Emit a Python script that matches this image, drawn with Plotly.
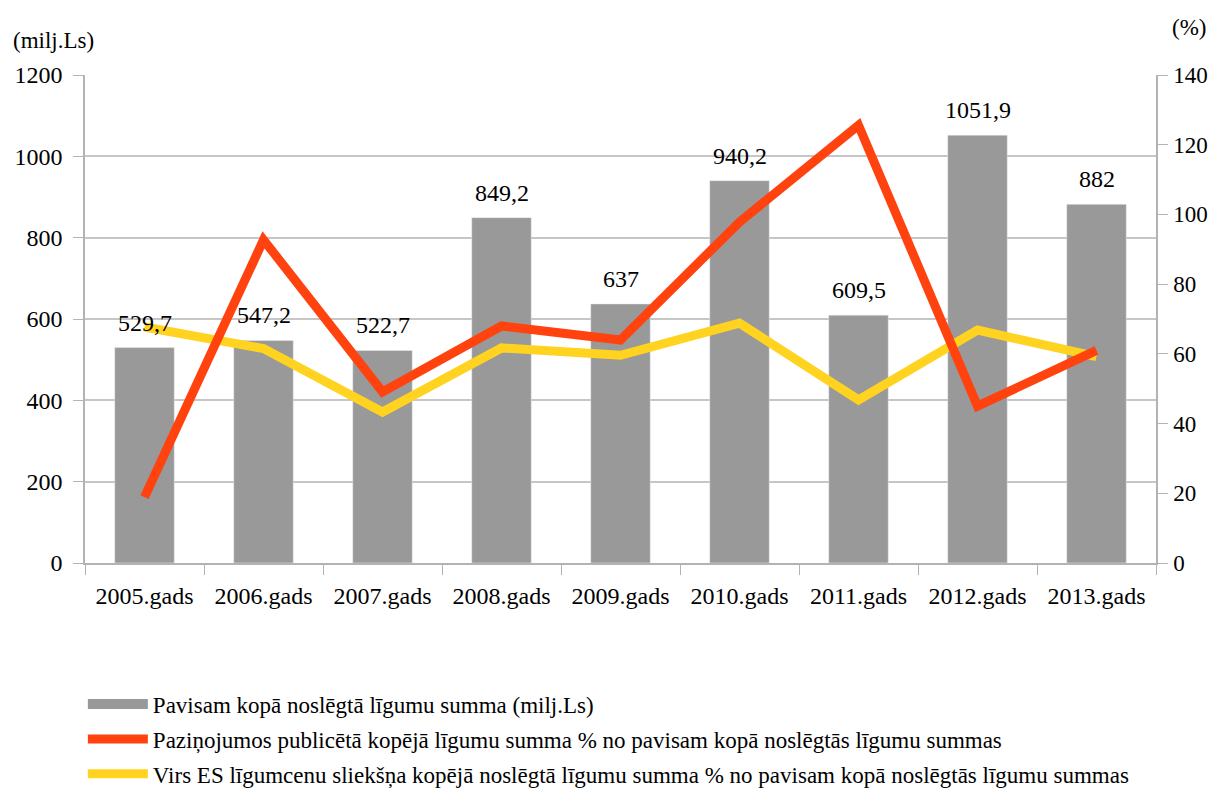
import plotly.graph_objects as go

years = ["2005.gads", "2006.gads", "2007.gads", "2008.gads", "2009.gads",
         "2010.gads", "2011.gads", "2012.gads", "2013.gads"]
total_sum = [529.7, 547.2, 522.7, 849.2, 637, 940.2, 609.5, 1051.9, 882]
published_pct = [18.9, 92.7, 49.1, 68.0, 64.0, 97.8, 125.6, 45.0, 61.0]
above_eu_pct = [67.7, 61.5, 43.3, 61.7, 59.6, 68.8, 46.8, 66.8, 59.2]

names = [
    "Pavisam kopā noslēgtā līgumu summa (milj.Ls)",
    "Paziņojumos publicētā kopējā līgumu summa % no pavisam kopā noslēgtās līgumu summas",
    "Virs ES līgumcenu sliekšņa kopējā noslēgtā līgumu summa % no pavisam kopā noslēgtās līgumu summas",
]

FONT = "Liberation Serif"
GRAY = "#999999"
RED = "#ff420e"
YELLOW = "#ffd320"
AXIS = "#b3b3b3"

labels = [f"{v:g}".replace(".", ",") for v in total_sum]

fig = go.Figure()
fig.add_trace(go.Bar(x=years, y=total_sum, name=names[0], marker_color=GRAY,
                     showlegend=False))
fig.add_trace(go.Scatter(x=years, y=above_eu_pct, name=names[2], yaxis="y2",
                         mode="lines", line=dict(color=YELLOW, width=9),
                         legendgroup="c", legendrank=3))
fig.add_trace(go.Scatter(x=years, y=published_pct, name=names[1], yaxis="y2",
                         mode="lines", line=dict(color=RED, width=9),
                         legendgroup="b", legendrank=2))
# legend entry for the bars drawn as a wide block like the reference
fig.add_trace(go.Scatter(x=[None], y=[None], name=names[0], mode="lines",
                         line=dict(color=GRAY, width=10), legendgroup="a",
                         legendrank=1, hoverinfo="skip"))

value_labels = [dict(x=x, y=v, xref="x", yref="y", text=t, showarrow=False,
                     yanchor="bottom", yshift=10, font=dict(family=FONT, size=24))
                for x, v, t in zip(years, total_sum, labels)]

fig.update_layout(
    width=1203, height=781,
    margin=dict(l=77, r=55, t=67, b=226, autoexpand=False),
    paper_bgcolor="white", plot_bgcolor="white",
    font=dict(family=FONT, size=24, color="#000000"),
    bargap=0.5,
    showlegend=True,
    legend=dict(orientation="v", x=-0.002, xanchor="left", yref="container", y=0.1363,
                yanchor="top",
                font=dict(family=FONT, size=23), itemwidth=60,
                tracegroupgap=2, bgcolor="rgba(0,0,0,0)", traceorder="grouped"),
    xaxis=dict(showline=True, linecolor=AXIS, linewidth=1.5, ticks="outside",
               tickson="boundaries", ticklen=10, tickcolor=AXIS, showgrid=False,
               ticklabelstandoff=10, automargin=False,
               tickfont=dict(family=FONT, size=24)),
    yaxis=dict(range=[0, 1200], dtick=200, showline=True, linecolor=AXIS, linewidth=1.5,
               ticks="outside", ticklen=10, tickcolor=AXIS, gridcolor="#c6c6c6",
               gridwidth=1.5, zeroline=False, ticklabelstandoff=6, automargin=False,
               tickfont=dict(family=FONT, size=24)),
    yaxis2=dict(range=[0, 140], dtick=20, overlaying="y", side="right", showline=True,
                linecolor=AXIS, linewidth=1.5, ticks="outside", ticklen=10,
                tickcolor=AXIS, showgrid=False, zeroline=False, ticklabelstandoff=1,
                automargin=False, tickfont=dict(family=FONT, size=23)),
    annotations=[
        dict(text="(milj.Ls)", xref="paper", yref="paper", x=-0.069, y=1.04,
             xanchor="left", yanchor="bottom", showarrow=False,
             font=dict(family=FONT, size=23)),
        dict(text="(%)", xref="paper", yref="paper", x=1.0486, y=1.068,
             xanchor="right", yanchor="bottom", showarrow=False,
             font=dict(family=FONT, size=23)),
    ] + value_labels,
)

fig.write_html("out.html")
